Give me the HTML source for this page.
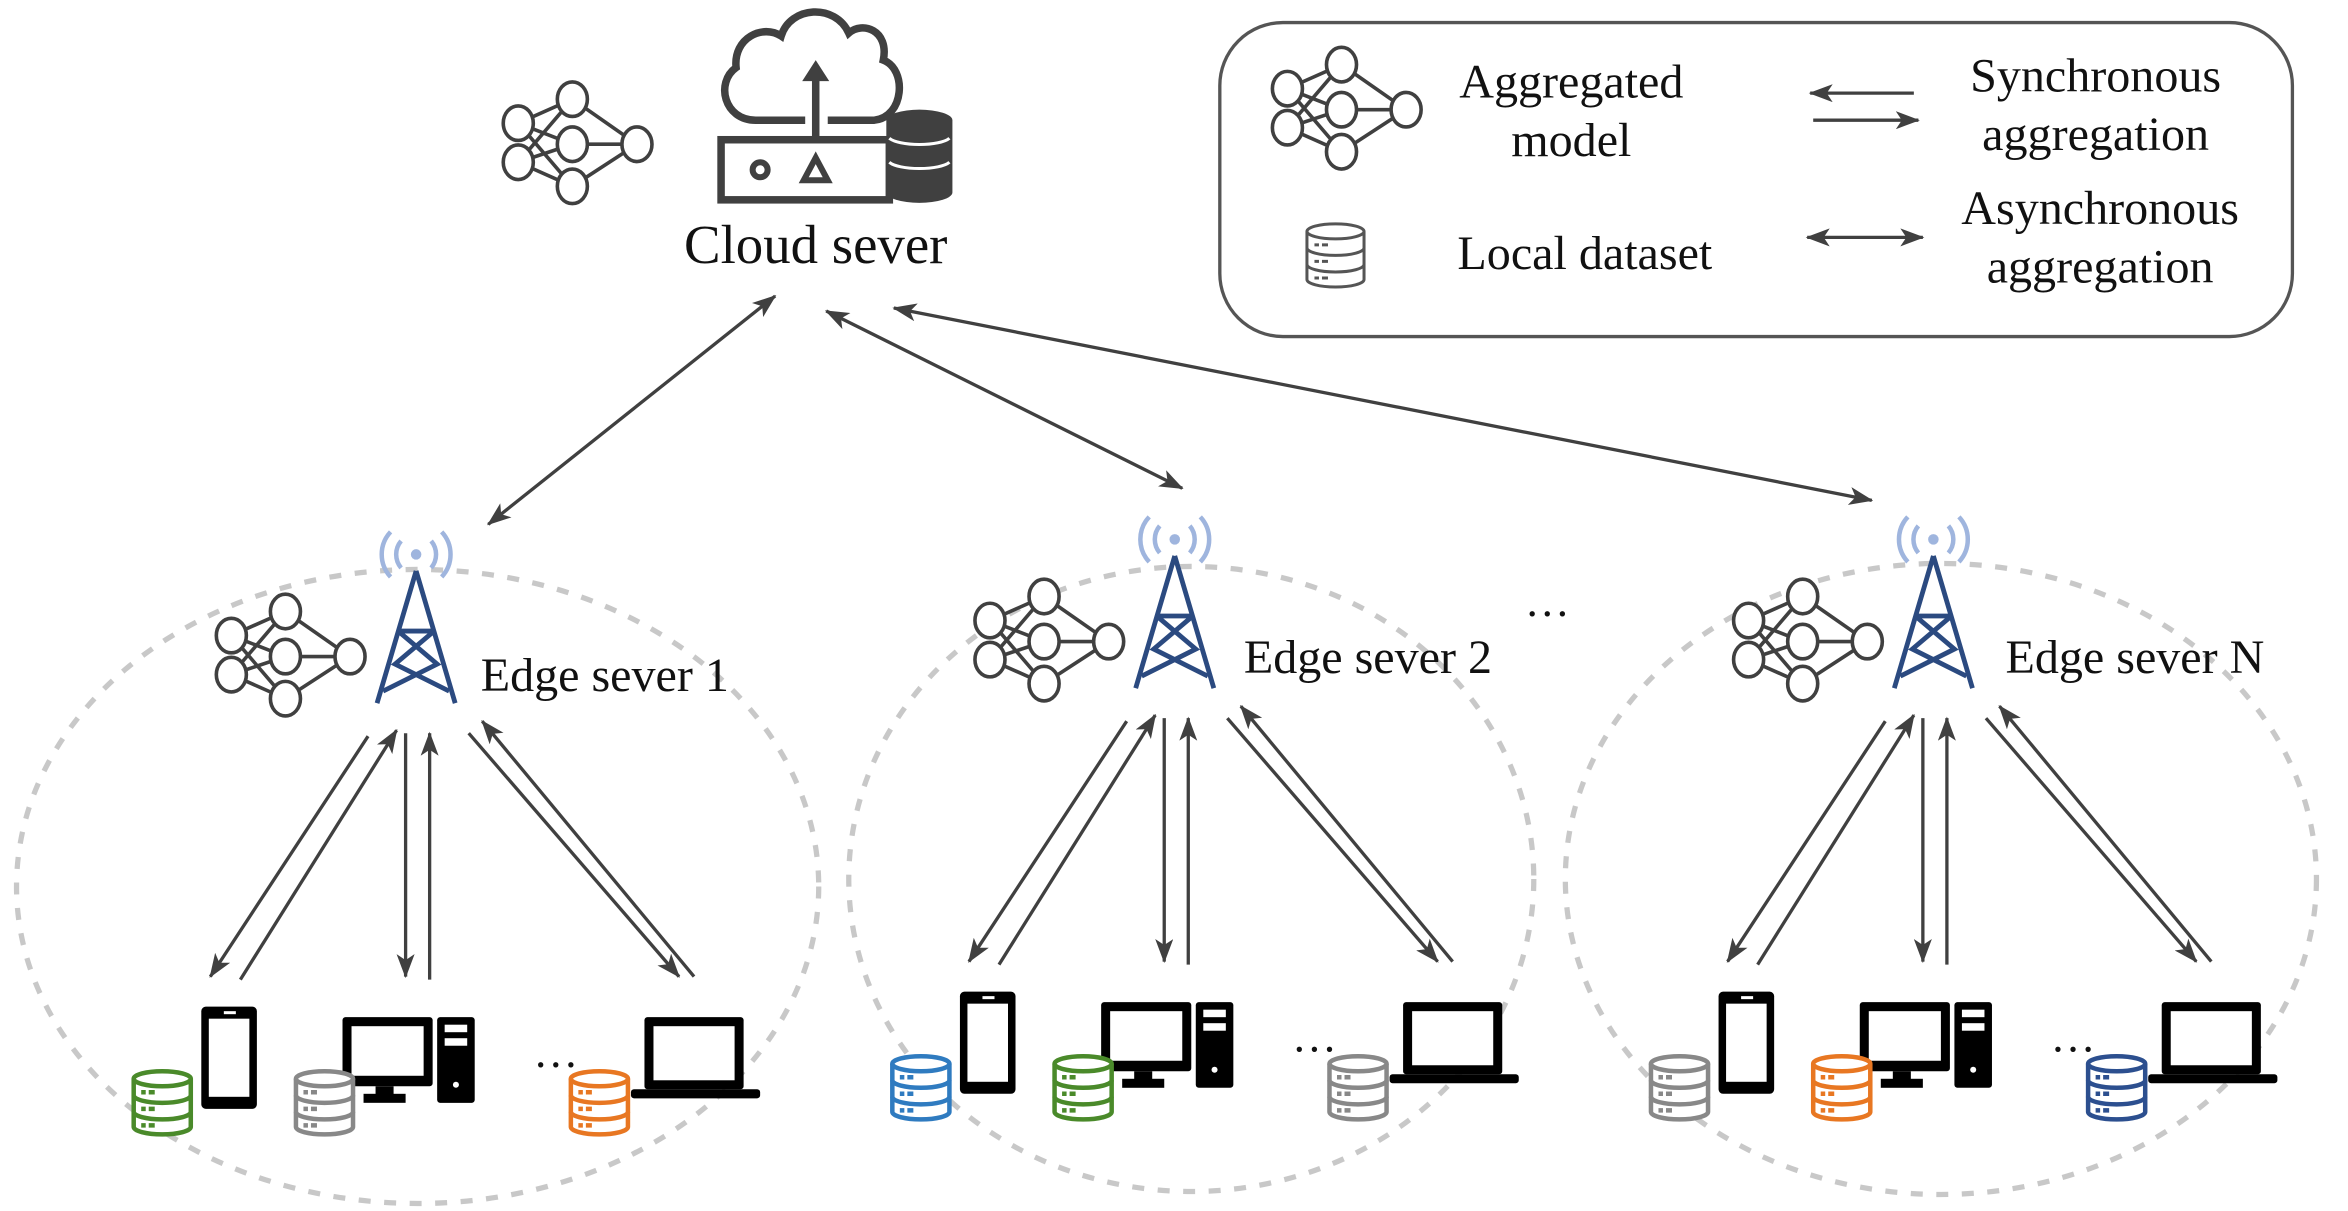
<!DOCTYPE html>
<html><head><meta charset="utf-8"><style>
html,body{margin:0;padding:0;background:#fff;}
svg{display:block;}
</style></head><body>
<svg width="2348" height="1211" viewBox="0 0 1563 806" preserveAspectRatio="none" xmlns="http://www.w3.org/2000/svg">
<defs>
<marker id="ah" markerWidth="16" markerHeight="12" refX="15" refY="6" orient="auto" markerUnits="userSpaceOnUse">
<path d="M0,0 L16,6 L0,12 L4,6 z" fill="#404040"/></marker>
<marker id="ahs" markerWidth="16" markerHeight="12" refX="1" refY="6" orient="auto" markerUnits="userSpaceOnUse">
<path d="M16,0 L0,6 L16,12 L12,6 z" fill="#404040"/></marker>
<g id="nn" stroke="#404040" stroke-width="2.4" fill="#fff">
<path d="M-36,-14 L0,-30 M-36,-14 L0,0 M-36,-14 L0,28 M-36,12 L0,-30 M-36,12 L0,0 M-36,12 L0,28 M0,-30 L43,0 M0,0 L43,0 M0,28 L43,0" fill="none"/>
<ellipse cx="-36" cy="-14" rx="10" ry="11.5"/><ellipse cx="-36" cy="12" rx="10" ry="11.5"/>
<ellipse cx="0" cy="-30" rx="10" ry="11.5"/><ellipse cx="0" cy="0" rx="10" ry="11.5"/><ellipse cx="0" cy="28" rx="10" ry="11.5"/>
<ellipse cx="43" cy="0" rx="10" ry="11.5"/>
</g>
<g id="tower">
<path d="M-10,-20 A14,14 0 0 0 -10,-2 M10,-20 A14,14 0 0 1 10,-2 M-17,-26 A22,22 0 0 0 -17,4 M17,-26 A22,22 0 0 1 17,4" stroke="#9fb5de" stroke-width="3" fill="none"/>
<circle cx="0" cy="-11" r="3.5" fill="#9fb5de"/>
<path d="M0,0 L-26,88 M0,0 L26,88 M-12,40 L14,62 L-22,80 M12,40 L-14,62 L22,80 M-12,40 L12,40" stroke="#2b4a80" stroke-width="3.2" fill="none"/>
</g>
<g id="db">
<path d="M0,6 L0,38 A19,5 0 0 0 38,38 L38,6" fill="#fff"/>
<ellipse cx="19" cy="6" rx="19" ry="5" fill="#fff"/>
<path d="M0,17 A19,5 0 0 0 38,17 M0,28 A19,5 0 0 0 38,28" fill="none"/>
<path d="M5,15 h3 M10,15 h4 M5,26 h3 M10,26 h4 M5,37 h3 M10,37 h4" />
</g>
<g id="phone"><rect x="0" y="0" width="37" height="68" rx="3" fill="#000"/><rect x="5" y="8" width="27" height="52" fill="#fff"/><rect x="15" y="3" width="8" height="2" fill="#fff"/></g>
<g id="pc"><rect x="0" y="0" width="60" height="46" rx="2" fill="#000"/><rect x="6" y="6" width="48" height="33" fill="#fff"/><rect x="22" y="46" width="12" height="6" fill="#000"/><rect x="14" y="51" width="28" height="6" fill="#000"/>
<rect x="63" y="0" width="25" height="57" rx="2" fill="#000"/><rect x="68" y="5" width="15" height="5" fill="#fff"/><rect x="68" y="14" width="15" height="5" fill="#fff"/><circle cx="75.5" cy="45" r="2" fill="#fff"/></g>
<g id="laptop"><rect x="9" y="0" width="66" height="48" rx="2" fill="#000"/><rect x="15" y="6" width="54" height="36" fill="#fff"/><rect x="0" y="48" width="86" height="6" rx="2" fill="#000"/></g>
</defs>
<rect width="1563" height="806" fill="#fff"/>

<g font-family="Liberation Serif, Times New Roman, serif" style="font-family:'Liberation Serif','Times New Roman',serif" fill="#111">

<!-- Top -->
<use href="#nn" x="381" y="96"/>
<path d="M536,80 L503,80 C482,80 476,55 490,45 C488,25 508,16 520,24 C526,4 556,2 565,22 C574,14 592,20 588,40 C604,46 602,78 582,80 L551,80" stroke="#404040" stroke-width="5" fill="none"/>
<path d="M543,93 L543,50" stroke="#404040" stroke-width="5"/>
<path d="M534,54 L543,40 L552,54 z" fill="#404040"/>
<rect x="480" y="93" width="112" height="40" fill="#fff" stroke="#404040" stroke-width="5"/>
<circle cx="506" cy="113" r="5" fill="none" stroke="#404040" stroke-width="4"/>
<path d="M535,120 L543,105 L551,120 z" fill="none" stroke="#404040" stroke-width="4"/>
<path d="M590,80 A22,7 0 0 1 634,80 L634,128 A22,7 0 0 1 590,128 z" fill="#404040"/>
<path d="M592,92 A21,6 0 0 0 632,92 M592,108 A21,6 0 0 0 632,108" stroke="#fff" stroke-width="2" fill="none"/>
<text x="543" y="175" font-size="36.5" text-anchor="middle">Cloud sever</text>

<!-- Legend -->
<rect x="812" y="15" width="714" height="209" rx="42" fill="#fff" stroke="#555" stroke-width="2.2"/>
<use href="#nn" x="893" y="73"/>
<text x="1046" y="65" font-size="32" text-anchor="middle">Aggregated</text>
<text x="1046" y="104" font-size="32" text-anchor="middle">model</text>
<line x1="1274" y1="62" x2="1205" y2="62" stroke="#404040" stroke-width="2.2" marker-end="url(#ah)"/>
<line x1="1207" y1="80" x2="1277" y2="80" stroke="#404040" stroke-width="2.2" marker-end="url(#ah)"/>
<text x="1395" y="61" font-size="32" text-anchor="middle">Synchronous</text>
<text x="1395" y="100" font-size="32" text-anchor="middle">aggregation</text>
<use href="#db" x="870" y="148" stroke="#555" stroke-width="2" fill="none"/>
<text x="1055" y="179" font-size="32" text-anchor="middle">Local dataset</text>
<line x1="1203" y1="158" x2="1280" y2="158" stroke="#404040" stroke-width="2.2" marker-end="url(#ah)" marker-start="url(#ahs)"/>
<text x="1398" y="149" font-size="32" text-anchor="middle">Asynchronous</text>
<text x="1398" y="188" font-size="32" text-anchor="middle">aggregation</text>

<!-- Cloud to edge arrows -->
<g stroke="#404040" stroke-width="2.2" marker-end="url(#ah)" marker-start="url(#ahs)">
<line x1="516" y1="197" x2="325" y2="349"/>
<line x1="550" y1="207" x2="787" y2="325"/>
<line x1="595" y1="205" x2="1246" y2="333"/>
</g>
<text x="1030" y="410" font-size="30" text-anchor="middle">…</text>

<!-- Ellipses -->
<g fill="none" stroke="#c8c8c8" stroke-width="3.5" stroke-dasharray="8,9">
<ellipse cx="278" cy="590" rx="267" ry="211"/>
<ellipse cx="793" cy="585" rx="228" ry="208"/>
<ellipse cx="1292" cy="585" rx="250" ry="210"/>
</g>

<!-- Cluster 1 -->
<g>
<use href="#nn" x="190" y="437"/>
<use href="#tower" x="277" y="380"/>
<text x="320" y="460" font-size="32">Edge sever 1</text>
<g stroke="#404040" stroke-width="2.2" marker-end="url(#ah)">
<line x1="245" y1="490" x2="140" y2="650"/>
<line x1="160" y1="652" x2="264" y2="486"/>
<line x1="270" y1="488" x2="270" y2="650"/>
<line x1="286" y1="652" x2="286" y2="488"/>
<line x1="312" y1="488" x2="452" y2="650"/>
<line x1="462" y1="650" x2="321" y2="480"/>
</g>
<use href="#phone" x="134" y="670"/>
<use href="#db" x="89" y="712" stroke="#4a8a2a" stroke-width="3" fill="none"/>
<use href="#pc" x="228" y="677"/>
<use href="#db" x="197" y="712" stroke="#888" stroke-width="3" fill="none"/>
<text x="370" y="710" font-size="30" text-anchor="middle">…</text>
<use href="#laptop" x="420" y="677"/>
<use href="#db" x="380" y="712" stroke="#e87722" stroke-width="3" fill="none"/>
</g>

<!-- Cluster 2 -->
<g transform="translate(505,-10)">
<use href="#nn" x="190" y="437"/>
<use href="#tower" x="277" y="380"/>
<text x="323" y="458" font-size="32">Edge sever 2</text>
<g stroke="#404040" stroke-width="2.2" marker-end="url(#ah)">
<line x1="245" y1="490" x2="140" y2="650"/>
<line x1="160" y1="652" x2="264" y2="486"/>
<line x1="270" y1="488" x2="270" y2="650"/>
<line x1="286" y1="652" x2="286" y2="488"/>
<line x1="312" y1="488" x2="452" y2="650"/>
<line x1="462" y1="650" x2="321" y2="480"/>
</g>
<use href="#phone" x="134" y="670"/>
<use href="#db" x="89" y="712" stroke="#2f7bc0" stroke-width="3" fill="none"/>
<use href="#pc" x="228" y="677"/>
<use href="#db" x="197" y="712" stroke="#4a8a2a" stroke-width="3" fill="none"/>
<text x="370" y="710" font-size="30" text-anchor="middle">…</text>
<use href="#laptop" x="420" y="677"/>
<use href="#db" x="380" y="712" stroke="#888" stroke-width="3" fill="none"/>
</g>

<!-- Cluster N -->
<g transform="translate(1010,-10)">
<use href="#nn" x="190" y="437"/>
<use href="#tower" x="277" y="380"/>
<text x="325" y="458" font-size="32">Edge sever N</text>
<g stroke="#404040" stroke-width="2.2" marker-end="url(#ah)">
<line x1="245" y1="490" x2="140" y2="650"/>
<line x1="160" y1="652" x2="264" y2="486"/>
<line x1="270" y1="488" x2="270" y2="650"/>
<line x1="286" y1="652" x2="286" y2="488"/>
<line x1="312" y1="488" x2="452" y2="650"/>
<line x1="462" y1="650" x2="321" y2="480"/>
</g>
<use href="#phone" x="134" y="670"/>
<use href="#db" x="89" y="712" stroke="#888" stroke-width="3" fill="none"/>
<use href="#pc" x="228" y="677"/>
<use href="#db" x="197" y="712" stroke="#e87722" stroke-width="3" fill="none"/>
<text x="370" y="710" font-size="30" text-anchor="middle">…</text>
<use href="#laptop" x="420" y="677"/>
<use href="#db" x="380" y="712" stroke="#2c4f8f" stroke-width="3" fill="none"/>
</g>
</g>
</svg>
</body></html>
